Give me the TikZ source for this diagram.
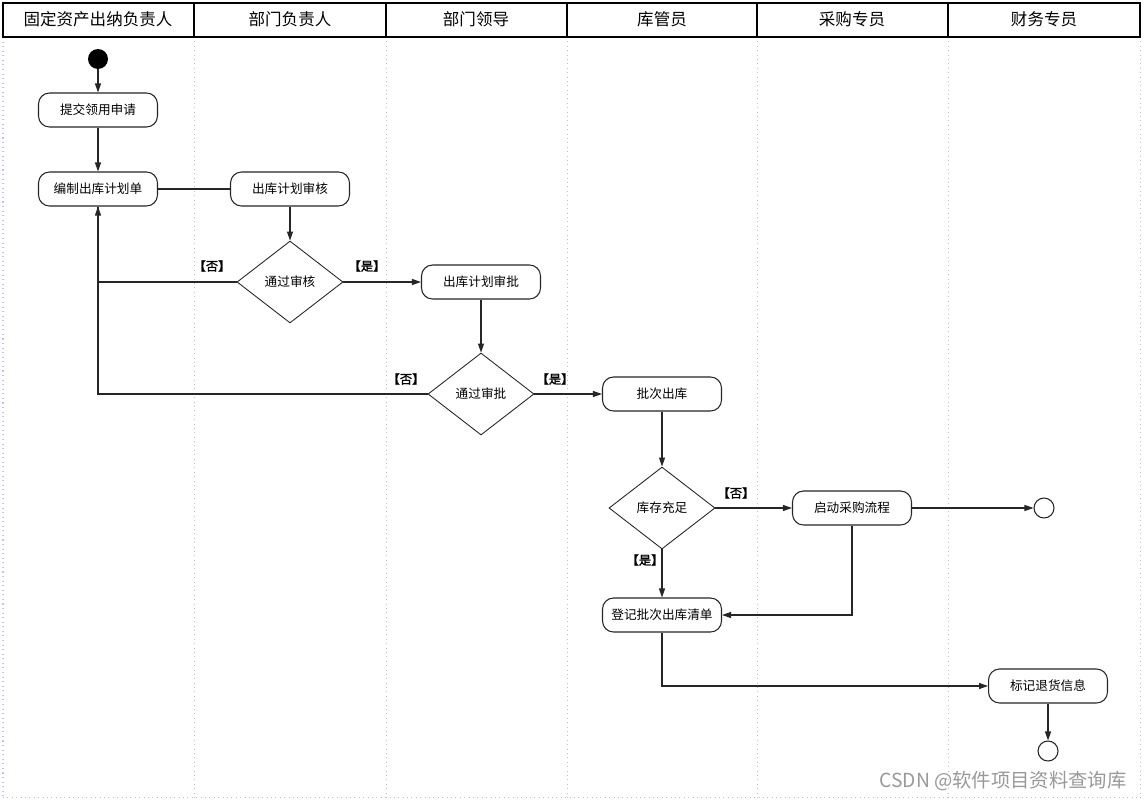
\documentclass[tikz,border=0pt]{standalone}
\usepackage{fontspec}
\newfontfamily\cjk{Noto Sans CJK SC}
\newfontfamily\cjkbold{Noto Sans CJK SC}[FakeBold=1.5]
\usetikzlibrary{arrows.meta,shapes.geometric}
\tikzset{
	act/.style={draw=black!85, line width=0.6pt, rounded corners=0.22cm, minimum width=2.38cm, minimum height=0.68cm, inner sep=0pt, font=\cjk\fontsize{7.2}{8}\selectfont},
	choice/.style={diamond, draw=black!85, line width=0.5pt, minimum width=2.12cm, minimum height=1.64cm, inner sep=0pt, font=\cjk\fontsize{7.2}{8}\selectfont},
	guard/.style={font=\cjkbold\fontsize{7}{8}\selectfont},
	lane/.style={font=\cjk\fontsize{9.4}{10}\selectfont},
	arr/.style={draw=black!85, line width=0.6pt, -{Triangle[length=1.8mm,width=1.2mm]}},
	flow/.style={draw=black!85, line width=0.6pt}
}

\begin{document}
\begin{tikzpicture}[x=0.02cm, y=-0.02cm]
			%%%%% START %%%%%
			\useasboundingbox[fill=white] (0, 0) rectangle (1145, 801);
			
			% lanes
			\draw[dotted, blue!25, line width=0.6pt] (3, 37) -- (3, 797);
			\foreach \x in {194, 386, 567, 757, 948, 1140}
				\draw[dotted, black!25, line width=0.5pt] (\x, 37) -- (\x, 797);
			\draw[dotted, black!25, line width=0.5pt] (3, 797) -- (1140, 797);
			
			\draw[line width=0.8pt] (3, 3) rectangle (1140, 37);
			\foreach \x in {194, 386, 567, 757, 948}
				\draw[line width=0.8pt] (\x, 3) -- (\x, 37);
			
			\node[lane] (laneA) at (98, 19) {固定资产出纳负责人};
			\node[lane] (laneB) at (290, 19) {部门负责人};
			\node[lane] (laneC) at (476, 19) {部门领导};
			\node[lane] (laneD) at (662, 19) {库管员};
			\node[lane] (laneE) at (852, 19) {采购专员};
			\node[lane] (laneF) at (1044, 19) {财务专员};
			
			% activities
			\node[circle, fill=black, minimum size=0.4cm, inner sep=0pt] (start) at (98, 59) {};
			\node[act] (apply) at (98, 110) {提交领用申请};
			\node[act] (plan) at (98, 189) {编制出库计划单};
			\node[act] (check) at (290, 189) {出库计划审核};
			\node[choice] (pass1) at (290, 282) {通过审核};
			\node[act] (approve) at (481, 282) {出库计划审批};
			\node[choice] (pass2) at (481, 394) {通过审批};
			\node[act] (batch) at (662, 394) {批次出库};
			\node[choice] (stock) at (662, 508) {库存充足};
			\node[act] (purchase) at (852, 508) {启动采购流程};
			\node[circle, draw=black!85, line width=0.6pt, minimum size=0.4cm, inner sep=0pt] (end1) at (1044, 508) {};
			\node[act] (register) at (662, 615) {登记批次出库清单};
			\node[act] (mark) at (1048, 686) {标记退货信息};
			\node[circle, draw=black!85, line width=0.6pt, minimum size=0.4cm, inner sep=0pt] (end2) at (1048, 751) {};
			
			% flows
			\draw[arr] (start) -- (apply);
			\draw[arr] (apply) -- (plan);
			\draw[flow] (plan) -- (check);
			\draw[arr] (check) -- (pass1);
			\draw[arr] (pass1.west) -| (plan.south);
			\draw[arr] (pass1) -- (approve);
			\draw[arr] (approve) -- (pass2);
			\draw[flow] (pass2.west) -| (plan.south);
			\draw[arr] (pass2) -- (batch);
			\draw[arr] (batch) -- (stock);
			\draw[arr] (stock) -- (purchase);
			\draw[arr] (stock) -- (register);
			\draw[arr] (purchase) -- (end1);
			\draw[arr] (purchase.south) |- (register.east);
			\draw[arr] (register.south) |- (mark.west);
			\draw[arr] (mark) -- (end2);
			
			\node[guard] (no1) at (212, 266) {【否】};
			\node[guard] (yes1) at (367, 266) {【是】};
			\node[guard] (no2) at (406, 379) {【否】};
			\node[guard] (yes2) at (555, 379) {【是】};
			\node[guard] (no3) at (736, 493) {【否】};
			\node[guard] (yes3) at (645, 560) {【是】};
			
			\node[font=\cjk\fontsize{11}{12}\selectfont, text=black!40] (watermark) at (1003, 781) {CSDN @软件项目资料查询库};
			%%%%% END %%%%%
		\end{tikzpicture}
\end{document}
